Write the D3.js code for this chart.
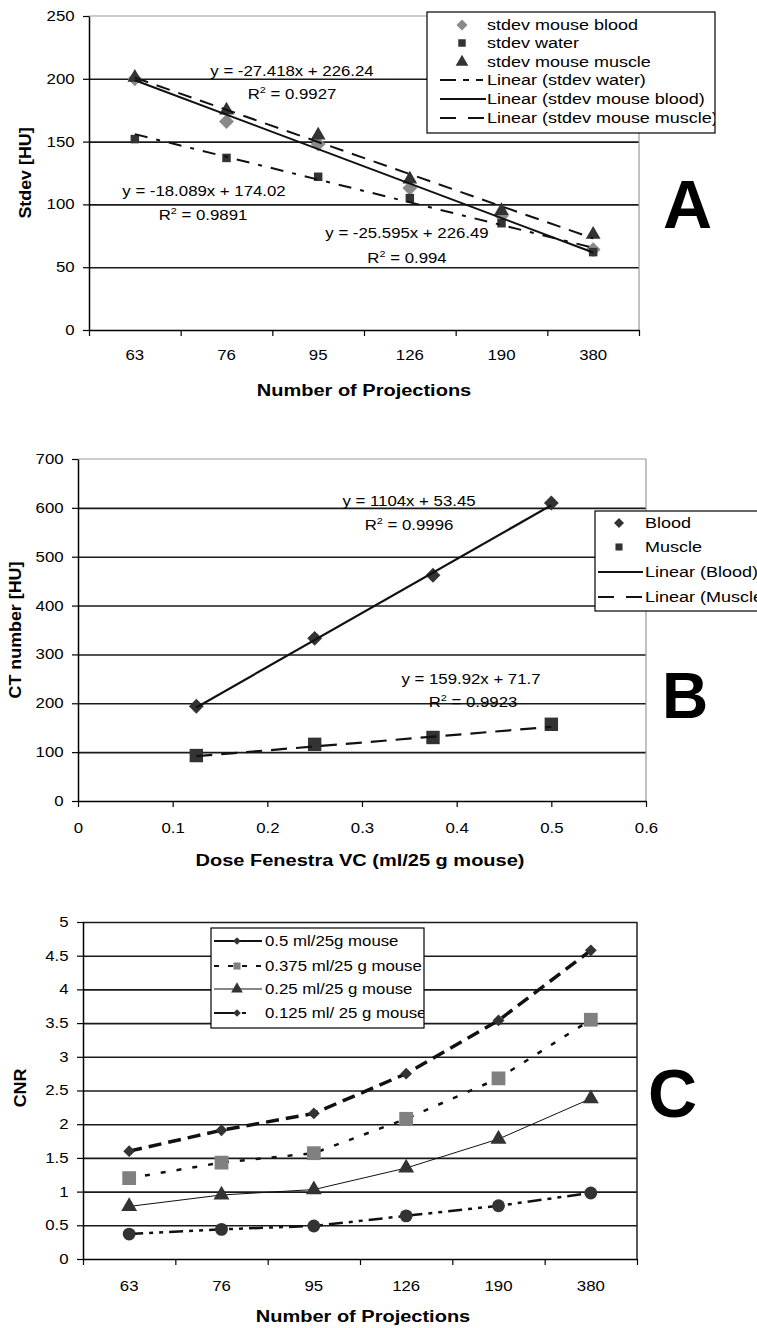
<!DOCTYPE html>
<html>
<head>
<meta charset="utf-8">
<script src="https://cdnjs.cloudflare.com/ajax/libs/d3/7.8.5/d3.min.js"></script>
<style>
  body { margin: 0; background: #fff; }
  svg { display: block; }
</style>
</head>
<body>
<svg id="fig" width="757" height="1328"></svg>
<script>
const projections = ["63", "76", "95", "126", "190", "380"];

// panel A - stdev [HU] vs number of projections
const stdevBlood = [200, 166, 148, 113, 91, 64];
const stdevWater = [152, 137, 122, 105, 85, 62];
const stdevMuscle = [201, 175, 155, 120, 95, 76];
const fitBlood = [-27.418, 226.24]; // slope, intercept (x = 1..6)
const fitWater = [-18.089, 174.02];
const fitMuscle = [-25.595, 226.49];
const ticksA = [0, 50, 100, 150, 200, 250];

// panel B - CT number vs dose
const doses = [0.125, 0.25, 0.375, 0.5];
const ctBlood = [194, 333, 462, 610];
const ctMuscle = [93, 116, 130, 157];
const fitCtBlood = [1104, 53.45];
const fitCtMuscle = [159.92, 71.7];
const ticksBx = [0, 0.1, 0.2, 0.3, 0.4, 0.5, 0.6];
const ticksBy = [0, 100, 200, 300, 400, 500, 600, 700];

// panel C - CNR vs number of projections
const cnr05 = [1.6, 1.91, 2.16, 2.75, 3.54, 4.58];
const cnr0375 = [1.2, 1.43, 1.57, 2.08, 2.68, 3.55];
const cnr025 = [0.78, 0.95, 1.03, 1.35, 1.78, 2.38];
const cnr0125 = [0.37, 0.44, 0.49, 0.64, 0.79, 0.98];
const ticksC = [0, 0.5, 1, 1.5, 2, 2.5, 3, 3.5, 4, 4.5, 5];

const FONT = "'Liberation Sans', Arial, sans-serif";
const DARK = "#333";
const svg = d3.select("#fig");

// text is a bit wide in the original, so stretch it horizontally
function txt(g, x, y, s, o = {}) {
  return g.append("text")
    .attr("transform", `translate(${x},${y}) rotate(${o.rot || 0}) scale(${o.sx || 1.2},1)`)
    .attr("text-anchor", o.anchor || "start")
    .style("font", `${o.weight || "normal"} ${o.size || 14}px ${FONT}`)
    .attr("fill", "#000")
    .text(s);
}

function r2(g, x, y, val) {
  const t = txt(g, x, y, "R", { anchor: "middle" });
  t.append("tspan").attr("dy", -6).style("font-size", "9px").text("2");
  t.append("tspan").attr("dy", 6).text(" = " + val);
}

function marker(shape, size) {
  if (shape === "diamond") return d3.symbol(d3.symbolSquare, size)();
  if (shape === "square") return d3.symbol(d3.symbolSquare, size)();
  if (shape === "triangle") return d3.symbol(d3.symbolTriangle, size)();
  return d3.symbol(d3.symbolCircle, size)();
}

function drawMarkers(g, pts, shape, size, fill) {
  g.append("g").selectAll("path").data(pts).join("path")
    .attr("d", marker(shape, size))
    .attr("transform", d => `translate(${d[0]},${d[1]})` + (shape === "diamond" ? " rotate(45)" : ""))
    .attr("fill", fill);
}

function drawLine(g, pts, dash, width) {
  g.append("path").datum(pts)
    .attr("d", d3.line())
    .attr("fill", "none")
    .attr("stroke", "#111")
    .attr("stroke-width", width)
    .attr("stroke-dasharray", dash);
}

function styleAxis(sel) {
  sel.select(".domain").attr("stroke", "#000").attr("stroke-width", 1.5);
  sel.selectAll(".tick line").attr("stroke", "#000").attr("stroke-width", 1.2);
  sel.selectAll(".tick text")
    .style("font", `14px ${FONT}`).attr("fill", "#000")
    .attr("transform", "scale(1.2,1)");
}

function gridlines(g, y, values, x0, x1, color) {
  g.append("g").attr("transform", `translate(${x0},0)`)
    .call(d3.axisLeft(y).tickValues(values).tickSize(-(x1 - x0)).tickFormat(""))
    .call(a => a.select(".domain").remove())
    .selectAll("line").attr("stroke", color).attr("stroke-width", 1.6);
}

function legendEntry(g, y, lx0, lx1, mx, tx, label, o) {
  if (o.dash !== undefined) {
    g.append("line").attr("x1", lx0).attr("x2", lx1).attr("y1", y).attr("y2", y)
      .attr("stroke", "#111").attr("stroke-width", o.width || 2)
      .attr("stroke-dasharray", o.dash);
  }
  if (o.shape) drawMarkers(g, [[mx, y]], o.shape, o.size, o.fill);
  txt(g, tx, y + 5, label, { size: o.fs || 15, sx: 1.2 });
}

// ---------------- Panel A ----------------
{
  const g = svg.append("g");
  const x = d3.scaleBand().domain(projections).range([89, 639]);
  const xb = d3.scaleLinear().domain([0, 6]).range(x.range());
  const y = d3.scaleLinear().domain([0, 250]).range([330, 16]);
  const cx = i => x(projections[i]) + x.bandwidth() / 2;

  gridlines(g, y, [50, 100, 150, 200], 89, 639, "#1a1a1a");
  g.append("path")
    .attr("d", `M${xb(0)},${y(250)}H${xb(6)}V${y(0)}`)
    .attr("fill", "none").attr("stroke", "#999").attr("stroke-width", 1.2);

  const pts = arr => arr.map((v, i) => [cx(i), y(v)]);
  drawMarkers(g, pts(stdevBlood), "diamond", 110, "#8a8a8a");
  drawMarkers(g, pts(stdevMuscle), "triangle", 95, DARK);
  drawMarkers(g, pts(stdevWater), "square", 72, DARK);

  const fit = f => [0, 5].map(i => [cx(i), y(f[0] * (i + 1) + f[1])]);
  drawLine(g, fit(fitWater), "13,9,4,9", 2);
  drawLine(g, fit(fitBlood), null, 2);
  drawLine(g, fit(fitMuscle), "14,9", 2);

  g.append("g").attr("transform", `translate(89,0)`)
    .call(d3.axisLeft(y).tickValues(ticksA).tickSize(6).tickPadding(6).tickSizeOuter(0))
    .call(styleAxis);
  g.append("g").attr("transform", `translate(0,330)`)
    .call(d3.axisBottom(xb).tickValues(d3.range(7)).tickSize(6).tickFormat("").tickSizeOuter(0))
    .call(styleAxis);
  g.append("g").attr("transform", `translate(0,330)`)
    .call(d3.axisBottom(x).tickSize(0).tickPadding(20))
    .call(styleAxis)
    .call(a => a.select(".domain").remove());

  txt(g, 292, 76, "y = -27.418x + 226.24", { anchor: "middle" });
  r2(g, 292, 99, "0.9927");
  txt(g, 204, 196, "y = -18.089x + 174.02", { anchor: "middle" });
  r2(g, 203, 220, "0.9891");
  txt(g, 407, 238, "y = -25.595x + 226.49", { anchor: "middle" });
  r2(g, 407, 263, "0.994");

  txt(g, 364, 396, "Number of Projections", { anchor: "middle", weight: "bold", size: 16, sx: 1.25 });
  txt(g, 31, 173, "Stdev [HU]", { anchor: "middle", weight: "bold", size: 17, sx: 1.05, rot: -90 });
  txt(g, 663, 228, "A", { weight: "bold", size: 68, sx: 1 });

  // legend
  const lg = g.append("g");
  lg.append("clipPath").attr("id", "clipA").append("rect")
    .attr("x", 427).attr("y", 12).attr("width", 288).attr("height", 121);
  lg.append("rect").attr("x", 427).attr("y", 12).attr("width", 288).attr("height", 121)
    .attr("fill", "#fff").attr("stroke", "#000").attr("stroke-width", 1.2);
  const li = lg.append("g").attr("clip-path", "url(#clipA)");
  const rows = [25, 43, 62, 80, 99, 118];
  legendEntry(li, rows[0], 0, 0, 462, 487, "stdev mouse blood", { shape: "diamond", size: 60, fill: "#8a8a8a" });
  legendEntry(li, rows[1], 0, 0, 462, 487, "stdev water", { shape: "square", size: 56, fill: DARK });
  legendEntry(li, rows[2], 0, 0, 462, 487, "stdev mouse muscle", { shape: "triangle", size: 70, fill: DARK });
  legendEntry(li, rows[3], 440, 483, 0, 487, "Linear (stdev water)", { dash: "16,7,6,7" });
  legendEntry(li, rows[4], 440, 486, 0, 487, "Linear (stdev mouse blood)", { dash: null });
  legendEntry(li, rows[5], 440, 486, 0, 487, "Linear (stdev mouse muscle)", { dash: "16,12" });
}

// ---------------- Panel B ----------------
{
  const g = svg.append("g");
  const x = d3.scaleLinear().domain([0, 0.6]).range([78, 646]);
  const y = d3.scaleLinear().domain([0, 700]).range([801, 459]);

  gridlines(g, y, [100, 200, 300, 400, 500, 600], 78, 646, "#1a1a1a");
  g.append("path")
    .attr("d", `M${x(0)},${y(700)}H${x(0.6)}V${y(0)}`)
    .attr("fill", "none").attr("stroke", "#999").attr("stroke-width", 1.2);

  drawMarkers(g, doses.map((d, i) => [x(d), y(ctBlood[i])]), "diamond", 110, DARK);
  drawMarkers(g, doses.map((d, i) => [x(d), y(ctMuscle[i])]), "square", 180, DARK);

  const fit = f => [doses[0], doses[doses.length - 1]].map(d => [x(d), y(f[0] * d + f[1])]);
  drawLine(g, fit(fitCtBlood), null, 2.2);
  drawLine(g, fit(fitCtMuscle), "16,9", 2.2);

  g.append("g").attr("transform", `translate(78,0)`)
    .call(d3.axisLeft(y).tickValues(ticksBy).tickSize(6).tickPadding(6).tickSizeOuter(0))
    .call(styleAxis);
  g.append("g").attr("transform", `translate(0,801)`)
    .call(d3.axisBottom(x).tickValues(ticksBx).tickFormat(d => d).tickSize(6).tickPadding(16).tickSizeOuter(0))
    .call(styleAxis);

  txt(g, 409, 506, "y = 1104x + 53.45", { anchor: "middle" });
  r2(g, 409, 530, "0.9996");
  txt(g, 471, 684, "y = 159.92x + 71.7", { anchor: "middle" });
  r2(g, 473, 707, "0.9923");

  txt(g, 360, 866, "Dose Fenestra VC (ml/25 g mouse)", { anchor: "middle", weight: "bold", size: 16, sx: 1.25 });
  txt(g, 21, 630, "CT number [HU]", { anchor: "middle", weight: "bold", size: 17, sx: 1.05, rot: -90 });
  txt(g, 662, 718, "B", { weight: "bold", size: 64, sx: 1 });

  // legend runs past the right edge of the figure, as in the original
  const lg = g.append("g");
  lg.append("rect").attr("x", 595).attr("y", 511).attr("width", 200).attr("height", 100)
    .attr("fill", "#fff").attr("stroke", "#000").attr("stroke-width", 1.2);
  const rows = [523, 547, 572, 597];
  legendEntry(lg, rows[0], 0, 0, 619, 645, "Blood", { shape: "diamond", size: 50, fill: DARK });
  legendEntry(lg, rows[1], 0, 0, 619, 645, "Muscle", { shape: "square", size: 50, fill: DARK });
  legendEntry(lg, rows[2], 598, 643, 0, 645, "Linear (Blood)", { dash: null });
  legendEntry(lg, rows[3], 598, 643, 0, 645, "Linear (Muscle)", { dash: "16,12" });
}

// ---------------- Panel C ----------------
{
  const g = svg.append("g");
  const x = d3.scaleBand().domain(projections).range([83, 637]);
  const xb = d3.scaleLinear().domain([0, 6]).range(x.range());
  const y = d3.scaleLinear().domain([0, 5]).range([1259, 922]);
  const cx = i => x(projections[i]) + x.bandwidth() / 2;

  gridlines(g, y, ticksC.slice(1), 83, 637, "#1a1a1a");
  g.append("path")
    .attr("d", `M${xb(6)},${y(5)}V${y(0)}`)
    .attr("fill", "none").attr("stroke", "#222").attr("stroke-width", 1.5);

  const pts = arr => arr.map((v, i) => [cx(i), y(v)]);
  drawLine(g, pts(cnr05), "13,7", 3.5);
  drawLine(g, pts(cnr0375), "5,11", 2.5);
  drawLine(g, pts(cnr025), null, 1);
  drawLine(g, pts(cnr0125), "14,6,4,6,4,6", 2.5);
  drawMarkers(g, pts(cnr05), "diamond", 70, DARK);
  drawMarkers(g, pts(cnr0375), "square", 190, "#808080");
  drawMarkers(g, pts(cnr025), "triangle", 110, DARK);
  drawMarkers(g, pts(cnr0125), "circle", 130, DARK);

  g.append("g").attr("transform", `translate(83,0)`)
    .call(d3.axisLeft(y).tickValues(ticksC).tickFormat(d => d).tickSize(6).tickPadding(6).tickSizeOuter(0))
    .call(styleAxis);
  g.append("g").attr("transform", `translate(0,1259)`)
    .call(d3.axisBottom(xb).tickValues(d3.range(7)).tickSize(6).tickFormat("").tickSizeOuter(0))
    .call(styleAxis);
  g.append("g").attr("transform", `translate(0,1259)`)
    .call(d3.axisBottom(x).tickSize(0).tickPadding(22))
    .call(styleAxis)
    .call(a => a.select(".domain").remove());

  txt(g, 363, 1322, "Number of Projections", { anchor: "middle", weight: "bold", size: 16, sx: 1.25 });
  txt(g, 26, 1088, "CNR", { anchor: "middle", weight: "bold", size: 17, sx: 1.05, rot: -90 });
  txt(g, 648, 1117, "C", { weight: "bold", size: 68, sx: 1 });

  const lg = g.append("g");
  lg.append("clipPath").attr("id", "clipC").append("rect")
    .attr("x", 211).attr("y", 928).attr("width", 213).attr("height", 100);
  lg.append("rect").attr("x", 211).attr("y", 928).attr("width", 213).attr("height", 100)
    .attr("fill", "#fff").attr("stroke", "#000").attr("stroke-width", 1.2);
  const li = lg.append("g").attr("clip-path", "url(#clipC)");
  const rows = [941, 966, 989, 1013];
  legendEntry(li, rows[0], 214, 262, 237, 265, "0.5 ml/25g mouse", { dash: null, shape: "diamond", size: 30, fill: DARK, fs: 14 });
  legendEntry(li, rows[1], 214, 262, 237, 265, "0.375 ml/25 g mouse", { dash: "5,9", shape: "square", size: 50, fill: "#808080", fs: 14 });
  legendEntry(li, rows[2], 214, 262, 237, 265, "0.25 ml/25 g mouse", { dash: null, width: 1, shape: "triangle", size: 60, fill: DARK, fs: 14 });
  legendEntry(li, rows[3], 214, 262, 237, 265, "0.125 ml/ 25 g mouse", { dash: "22,6,4,30", shape: "diamond", size: 30, fill: DARK, fs: 14 });
}
</script>
</body>
</html>
